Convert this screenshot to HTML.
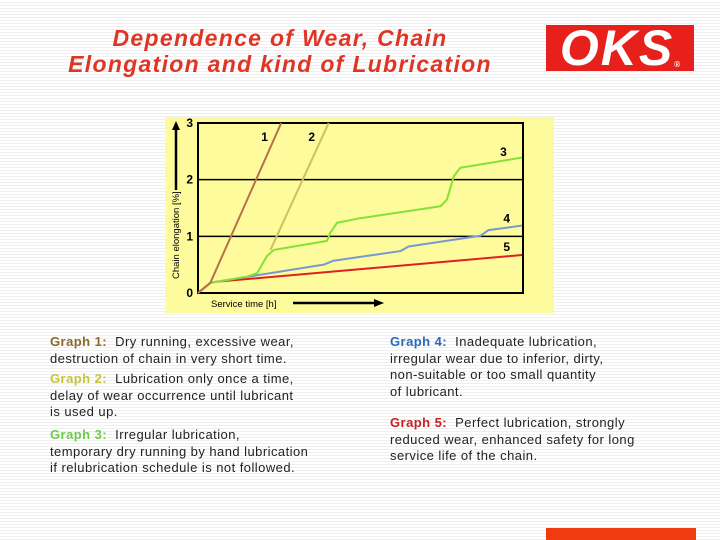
<!DOCTYPE html>
<html><head><meta charset="utf-8"><style>
body{margin:0}
#page{position:relative;width:720px;height:540px;overflow:hidden;font-family:"Liberation Sans",sans-serif;
background:repeating-linear-gradient(#ffffff 0 2px,#efefef 2px 3px);}
.t{position:absolute;font-size:13px;line-height:16.7px;color:#222;white-space:nowrap;letter-spacing:0.45px}
.title{position:absolute;left:30px;width:500px;text-align:center;top:25px;font-size:23px;line-height:26px;font-weight:bold;font-style:italic;color:#e03525;letter-spacing:1.3px}
</style></head><body>
<div id="page">
<div class="title">Dependence of Wear, Chain<br>Elongation and kind of Lubrication</div>
<div style="position:absolute;left:546px;top:25px;width:148px;height:46px;background:#e8201c;color:#fff;font-weight:bold;font-style:italic;font-size:50px;line-height:46px;text-align:center;letter-spacing:2px;white-space:nowrap">OKS<span style="font-size:8px;position:relative;top:2px;font-style:normal;letter-spacing:0">®</span></div>
<svg id="chart" width="720" height="540" style="position:absolute;left:0;top:0">
<rect x="165" y="117" width="389" height="196" fill="#fdfb9c"/>
<g id="grid"></g><g id="lines"></g><g id="labels"></g>
<line x1="176" y1="190" x2="176" y2="128" stroke="#000" stroke-width="2.5"/>
<polygon points="172,130 180,130 176,121" fill="#000"/>
<text x="179" y="279" font-size="9.5" transform="rotate(-90 179 279)" font-family="Liberation Sans">Chain elongation [%]</text>
<text x="211" y="307" font-size="9.5" font-family="Liberation Sans">Service time [h]</text>
<line x1="293" y1="303" x2="376" y2="303" stroke="#000" stroke-width="2.5"/>
<polygon points="374,299 374,307 384,303" fill="#000"/>
</svg>
<div class="t" style="left:50px;top:334px"><b style="color:#8a6a2a">Graph 1:</b>&nbsp; Dry running, excessive wear,<br>destruction of chain in very short time.</div>
<div class="t" style="left:50px;top:371px"><b style="color:#c8c43a">Graph 2:</b>&nbsp; Lubrication only once a time,<br>delay of wear occurrence until lubricant<br>is used up.</div>
<div class="t" style="left:50px;top:427px"><b style="color:#6ccc4a">Graph 3:</b>&nbsp; Irregular lubrication,<br>temporary dry running by hand lubrication<br>if relubrication schedule is not followed.</div>
<div class="t" style="left:390px;top:334px"><b style="color:#2a6ab8">Graph 4:</b>&nbsp; Inadequate lubrication,<br>irregular wear due to inferior, dirty,<br>non-suitable or too small quantity<br>of lubricant.</div>
<div class="t" style="left:390px;top:415px"><b style="color:#c82020">Graph 5:</b>&nbsp; Perfect lubrication, strongly<br>reduced wear, enhanced safety for long<br>service life of the chain.</div>
<div style="position:absolute;left:546px;top:528px;width:150px;height:12px;background:#f03a10"></div>
</div>
<script>
const yTicks=[0,1,2,3];
const s1x=[0,3.8,25.6], s1y=[0,0.18,3];
const s2x=[22.3,40.2], s2y=[0.76,3];
const s3x=[0,3.8,4.8,15.1,18.2,21.2,23.3,39.7,40.7,42.8,49.9,74.6,76.6,78.7,80.7,99.7];
const s3y=[0,0.18,0.19,0.29,0.35,0.65,0.76,0.92,1.06,1.24,1.32,1.53,1.65,2.06,2.21,2.39];
const s4x=[0,3.8,4.8,38.7,41.7,62.3,64.8,86.9,89.4,99.7];
const s4y=[0,0.18,0.19,0.5,0.57,0.74,0.82,1.01,1.11,1.19];
const s5x=[0,3.8,5.9,99.7], s5y=[0,0.18,0.2,0.67];
const seriesLabels=["1","2","3","4","5"];
const NS="http://www.w3.org/2000/svg";
const X0=198,X1=523,Y0=293,Y3=123;
function sx(v){return X0+(X1-X0)*v/100;}
function sy(v){return Y0-(Y0-Y3)*v/3;}
const grid=document.getElementById('grid');
const box=document.createElementNS(NS,'rect');
box.setAttribute('x',X0);box.setAttribute('y',Y3);box.setAttribute('width',X1-X0);box.setAttribute('height',Y0-Y3);
box.setAttribute('fill','none');box.setAttribute('stroke','#000');box.setAttribute('stroke-width','2');


grid.appendChild(box);
yTicks.forEach(t=>{
 if(t>0&&t<3){const l=document.createElementNS(NS,'line');
 l.setAttribute('x1',X0);l.setAttribute('x2',X1);l.setAttribute('y1',sy(t));l.setAttribute('y2',sy(t));
 l.setAttribute('stroke','#000');l.setAttribute('stroke-width','1.5');
 
 
 grid.appendChild(l);}
 const tx=document.createElementNS(NS,'text');
 tx.setAttribute('x',X0-5);tx.setAttribute('y',sy(t)+4);tx.setAttribute('text-anchor','end');
 tx.setAttribute('font-size','12');tx.setAttribute('font-weight','bold');tx.setAttribute('font-family','Liberation Sans');
 tx.textContent=t;
 
 
 grid.appendChild(tx);
});
const series=[[s1x,s1y,'#b87048'],[s2x,s2y,'#cfc060'],[s3x,s3y,'#84e234'],[s4x,s4y,'#7898d0'],[s5x,s5y,'#e02020']];
const lg=document.getElementById('lines');
[4,3,2,1,0].forEach(i=>{
 const [xs,ys,c]=series[i];
 const p=document.createElementNS(NS,'polyline');
 p.setAttribute('points',xs.map((x,j)=>sx(x)+','+sy(ys[j])).join(' '));
 p.setAttribute('fill','none');p.setAttribute('stroke',c);p.setAttribute('stroke-width','2');p.setAttribute('stroke-linejoin','round');
 
 
 lg.appendChild(p);
});
const labPos=[[20.5,2.68],[35,2.68],[94,2.42],[95,1.24],[95,0.74]];
const lab=document.getElementById('labels');
labPos.forEach((p,i)=>{
 const tx=document.createElementNS(NS,'text');
 tx.setAttribute('x',sx(p[0]));tx.setAttribute('y',sy(p[1]));tx.setAttribute('text-anchor','middle');
 tx.setAttribute('font-size','12');tx.setAttribute('font-weight','bold');tx.setAttribute('font-family','Liberation Sans');
 tx.textContent=seriesLabels[i];
 
 
 lab.appendChild(tx);
});
</script>
</body></html>
